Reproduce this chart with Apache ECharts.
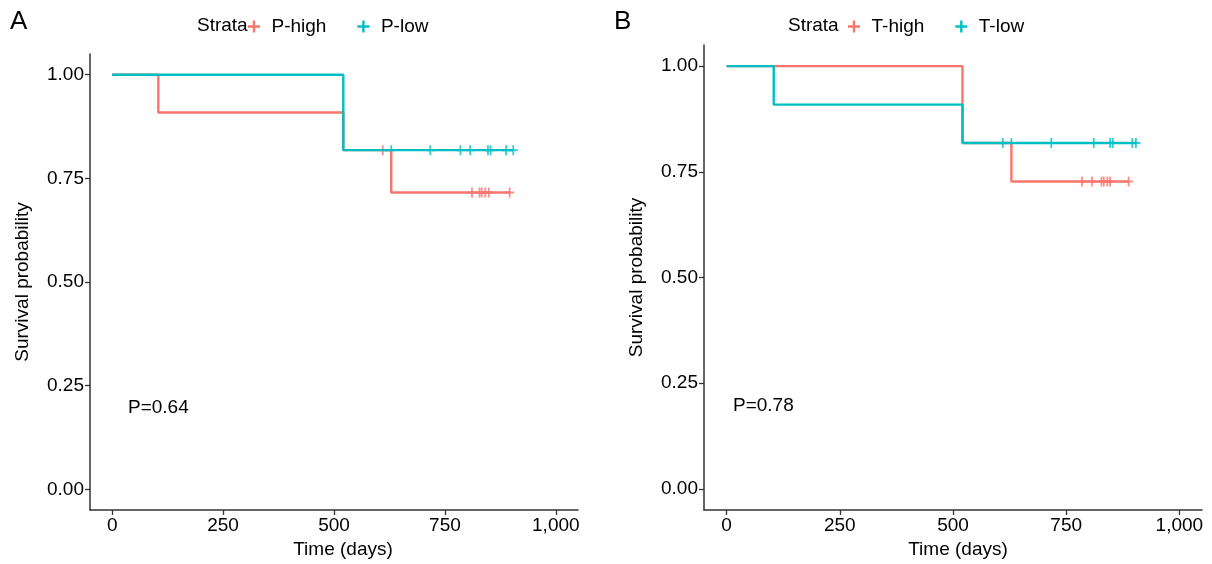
<!DOCTYPE html>
<html>
<head>
<meta charset="utf-8">
<script src="https://cdn.jsdelivr.net/npm/echarts@6/dist/echarts.min.js"></script>
<style>
  html, body { margin: 0; padding: 0; background: #fff; }
  #chart { width: 1212px; height: 564px; }
</style>
</head>
<body>
<div id="chart"></div>
<script>
// 刻度
const xTicks = [0, 250, 500, 750, 1000]
const yTicks = [0, 0.25, 0.5, 0.75, 1]

// A 面板
const aHighTime = [0, 104, 521, 629]
const aHighSurv = [1, 0.909, 0.818, 0.716]
const aHighCensor = [610, 811, 828, 833, 841, 849, 896]
const aLowTime = [0, 521]
const aLowSurv = [1, 0.818]
const aLowCensor = [629, 717, 785, 807, 847, 853, 888, 904]

// B 面板
const bHighTime = [0, 521, 629]
const bHighSurv = [1, 0.818, 0.727]
const bHighCensor = [785, 807, 828, 833, 841, 847, 888]
const bLowTime = [0, 104, 521]
const bLowSurv = [1, 0.909, 0.818]
const bLowCensor = [610, 629, 717, 811, 847, 853, 896, 904]

const RED = '#F8766D'
const TEAL = '#00BFC4'
const FONT = 'Liberation Sans, Arial, Helvetica, sans-serif'
const PLUS = 'path://M0,4h10v2h-10z M4,0h2v10h-2z'

function survAt (times, surv, t) {
  let v = surv[0]
  for (let i = 0; i < times.length; i++) {
    if (times[i] <= t) v = surv[i]
  }
  return v
}

function curve (times, surv, censor) {
  const pts = times.map((t, i) => [t, surv[i]])
  const last = Math.max(...censor)
  pts.push([last, surv[surv.length - 1]])
  return pts
}

function marks (times, surv, censor) {
  return censor.map(t => [t, survAt(times, surv, t)])
}

function lineSeries (name, idx, color, times, surv, censor) {
  return [
    {
      name: name,
      type: 'line',
      step: 'end',
      xAxisIndex: idx,
      yAxisIndex: idx,
      symbol: 'none',
      lineStyle: { color: color, width: 2.4 },
      itemStyle: { color: color },
      data: curve(times, surv, censor)
    },
    {
      name: name,
      type: 'scatter',
      xAxisIndex: idx,
      yAxisIndex: idx,
      symbol: PLUS,
      symbolSize: [9, 10],
      itemStyle: { color: color },
      data: marks(times, surv, censor)
    }
  ]
}

function xAxisOf (idx, shift) {
  return {
    type: 'value',
    gridIndex: idx,
    min: -50,
    max: 1050,
    name: 'Time (days)',
    nameLocation: 'middle',
    nameGap: 30,
    nameTextStyle: { color: '#000', fontSize: 19, fontFamily: FONT, padding: [0, 0, 0, shift * 2] },
    splitLine: { show: false },
    axisLine: { onZero: false, lineStyle: { color: '#333', width: 1.5 } },
    axisTick: { customValues: xTicks, length: 5, lineStyle: { color: '#333', width: 1.3 } },
    axisLabel: {
      customValues: xTicks,
      color: '#000',
      fontSize: 19,
      fontFamily: FONT,
      margin: 6,
      formatter: v => v.toLocaleString('en-US')
    }
  }
}

function yAxisOf (idx) {
  return {
    type: 'value',
    gridIndex: idx,
    min: -0.05,
    max: 1.05,
    name: 'Survival probability',
    nameLocation: 'middle',
    nameGap: 58,
    nameTextStyle: { color: '#000', fontSize: 19, fontFamily: FONT },
    splitLine: { show: false },
    axisLine: { show: true, onZero: false, lineStyle: { color: '#333', width: 1.5 } },
    axisTick: { show: true, customValues: yTicks, length: 5, lineStyle: { color: '#333', width: 1.3 } },
    axisLabel: {
      customValues: yTicks,
      color: '#000',
      fontSize: 19,
      fontFamily: FONT,
      margin: 6,
      formatter: v => v.toFixed(2)
    }
  }
}

const titleText = { fontSize: 19, fontWeight: 'normal', color: '#000', fontFamily: FONT }

const myChart = echarts.init(document.getElementById('chart'))
const option = {
  animation: false,
  backgroundColor: '#fff',
  title: [
    { text: 'A', left: 5, top: 4, textStyle: { fontSize: 26, fontWeight: 'normal', color: '#000', fontFamily: FONT } },
    { text: 'B', left: 609, top: 4, textStyle: { fontSize: 26, fontWeight: 'normal', color: '#000', fontFamily: FONT } },
    { text: 'Strata', left: 192, top: 11, textStyle: titleText },
    { text: 'Strata', left: 783, top: 11, textStyle: titleText },
    { text: 'P=0.64', left: 123, top: 393, textStyle: titleText },
    { text: 'P=0.78', left: 728, top: 391, textStyle: titleText }
  ],
  legend: [
    {
      data: ['P-high', 'P-low'],
      left: 243,
      top: 12,
      icon: PLUS,
      itemWidth: 15,
      itemHeight: 12,
      itemGap: 31,
      textStyle: { fontSize: 19, color: '#000', fontFamily: FONT, padding: [0, 0, 0, 5] }
    },
    {
      data: ['T-high', 'T-low'],
      left: 843,
      top: 12,
      icon: PLUS,
      itemWidth: 15,
      itemHeight: 12,
      itemGap: 31,
      textStyle: { fontSize: 19, color: '#000', fontFamily: FONT, padding: [0, 0, 0, 5] }
    }
  ],
  grid: [
    { left: 90, top: 54, width: 488, height: 457 },
    { left: 704, top: 45, width: 498, height: 467 }
  ],
  xAxis: [xAxisOf(0, 9), xAxisOf(1, 5)],
  yAxis: [yAxisOf(0), yAxisOf(1)],
  series: [
    ...lineSeries('P-high', 0, RED, aHighTime, aHighSurv, aHighCensor),
    ...lineSeries('P-low', 0, TEAL, aLowTime, aLowSurv, aLowCensor),
    ...lineSeries('T-high', 1, RED, bHighTime, bHighSurv, bHighCensor),
    ...lineSeries('T-low', 1, TEAL, bLowTime, bLowSurv, bLowCensor)
  ]
}
myChart.setOption(option)
</script>
</body>
</html>
